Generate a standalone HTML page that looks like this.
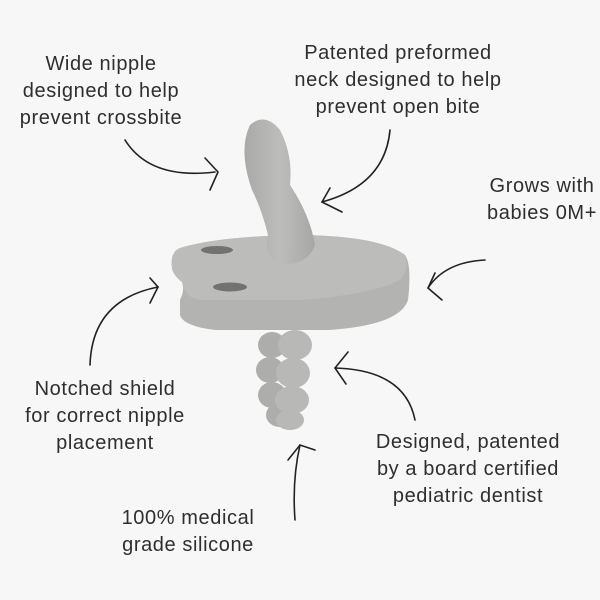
<!DOCTYPE html>
<html><head><style>
body{margin:0;background:#f7f7f7;}
svg{display:block}
text{font-family:"Liberation Sans",sans-serif;font-size:20px;letter-spacing:0.6px;fill:#2e2e2e;text-anchor:middle}
</style></head><body>
<svg width="600" height="600" viewBox="0 0 600 600">
<rect width="600" height="600" fill="#f7f7f7"/>
<defs>
<linearGradient id="g1" x1="0" y1="0" x2="1" y2="0"><stop offset="0" stop-color="#a9a9a7"/><stop offset=".5" stop-color="#bdbdbb"/><stop offset="1" stop-color="#a6a6a4"/></linearGradient>
</defs>
<g fill="#adadab">
<ellipse cx="272" cy="345" rx="14" ry="13"/><ellipse cx="270" cy="370" rx="14" ry="13"/><ellipse cx="272" cy="395" rx="14" ry="13"/><ellipse cx="280" cy="415" rx="14" ry="12"/>
</g>
<g fill="#b8b8b6">
<ellipse cx="295" cy="345" rx="17" ry="15"/><ellipse cx="293" cy="373" rx="17" ry="15"/><ellipse cx="292" cy="400" rx="17" ry="14"/><ellipse cx="290" cy="420" rx="14" ry="10"/>
</g>
<path d="M180 248 Q220 236 300 235 Q380 236 405 255 Q412 265 408 300 Q400 325 330 330 L215 330 Q183 326 180 315 L180 300 Q185 290 182 282 Q173 275 172 268 Q170 252 180 248Z" fill="#b3b3b1"/>
<path d="M180 248 Q220 236 300 235 Q380 236 405 255 Q410 268 400 280 Q370 295 300 300 L200 300 Q185 298 182 282 Q173 275 172 268 Q170 252 180 248Z" fill="#bcbcba"/>
<ellipse cx="217" cy="250" rx="16" ry="4" fill="#727270"/>
<ellipse cx="230" cy="287" rx="17" ry="4.5" fill="#727270"/>
<path d="M250 125 Q265 112 280 130 Q293 155 290 185 Q310 215 315 245 Q308 265 280 265 Q263 255 268 235 Q262 210 252 190 Q238 150 250 125Z" fill="url(#g1)"/>
<g fill="none" stroke="#222" stroke-width="1.6" stroke-linecap="round">
<path d="M125 140 Q150 180 215 172"/><path d="M205 158 L218 172 L210 190"/>
<path d="M390 130 Q385 185 322 202"/><path d="M330 188 L322 202 L342 212"/>
<path d="M485 260 Q445 262 428 288"/><path d="M435 273 L428 288 L442 300"/>
<path d="M90 365 Q92 300 158 287"/><path d="M150 278 L158 287 L150 303"/>
<path d="M415 420 Q405 370 335 368"/><path d="M348 352 L335 368 L346 384"/>
<path d="M295 520 Q292 480 300 445"/><path d="M288 460 L300 445 L315 450"/>
</g>
<text x="101" y="70">Wide nipple</text><text x="101" y="97">designed to help</text><text x="101" y="124">prevent crossbite</text>
<text x="398" y="59">Patented preformed</text><text x="398" y="86">neck designed to help</text><text x="398" y="113">prevent open bite</text>
<text x="542" y="192">Grows with</text><text x="542" y="219">babies 0M+</text>
<text x="105" y="395">Notched shield</text><text x="105" y="422">for correct nipple</text><text x="105" y="449">placement</text>
<text x="468" y="448">Designed, patented</text><text x="468" y="475">by a board certified</text><text x="468" y="502">pediatric dentist</text>
<text x="188" y="524">100% medical</text><text x="188" y="551">grade silicone</text>
</svg>
</body></html>
